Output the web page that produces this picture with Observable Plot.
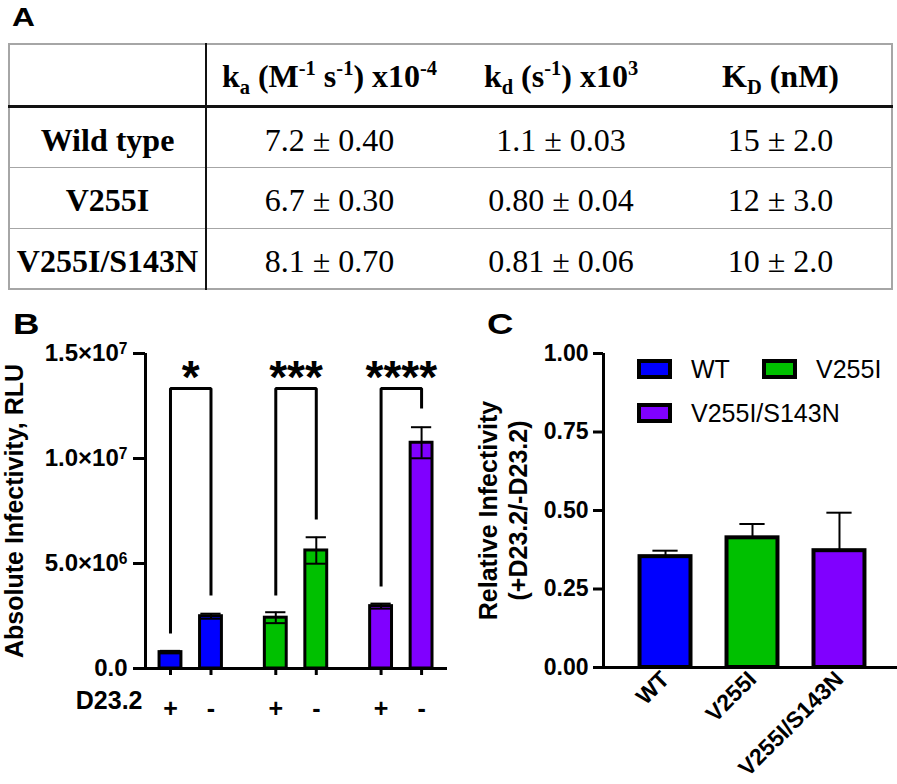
<!DOCTYPE html>
<html><head><meta charset="utf-8">
<script src="https://cdn.jsdelivr.net/npm/d3@7"></script>
<script src="https://cdn.jsdelivr.net/npm/@observablehq/plot@0.6"></script>
<style>
body{margin:0;background:#fff;}
#root{position:relative;width:897px;height:784px;overflow:hidden;font-family:"Liberation Sans",Arial,sans-serif;color:#000;}
.letter{position:absolute;font-weight:bold;font-size:30px;line-height:1;transform:scaleX(1.22);transform-origin:left top;}
#tbl{position:absolute;left:8px;top:43px;border-collapse:collapse;table-layout:fixed;font-family:"Liberation Serif","Times New Roman",serif;font-size:32px;color:#000;border:2px solid #a6a6a6;}
#tbl td{padding:6px 0 0 0;text-align:center;vertical-align:middle;white-space:nowrap;border-top:1.5px solid #a6a6a6;}
#tbl tr.hdr td{border-bottom:3.5px solid #111;font-weight:bold;font-size:32px;padding-top:4px;}
#tbl td.lab{font-weight:bold;border-right:2px solid #111;}
#tbl sub,#tbl sup{font-size:0.64em;line-height:0;}
.sw{position:absolute;box-sizing:border-box;width:35px;height:20px;border:4px solid #000;}
.lt{position:absolute;font-size:25px;line-height:26px;white-space:nowrap;}
.plot{position:absolute;}
</style></head>
<body><div id="root"></div>
<script>
// ---------- DATA ----------
const tableHeaders = ["", "k<sub>a</sub> (M<sup>-1</sup> s<sup>-1</sup>) x10<sup>-4</sup>", "k<sub>d</sub> (s<sup>-1</sup>) x10<sup>3</sup>", "K<sub>D</sub> (nM)"];
const tableRowLabels = ["Wild type", "V255I", "V255I/S143N"];
const kaValues = ["7.2 ± 0.40", "6.7 ± 0.30", "8.1 ± 0.70"];
const kdValues = ["1.1 ± 0.03", "0.80 ± 0.04", "0.81 ± 0.06"];
const KDValues = ["15 ± 2.0", "12 ± 3.0", "10 ± 2.0"];

const groups = ["WT", "V255I", "V255I/S143N"];
const groupColors = ["#0000ff", "#00c000", "#8000ff"];
const treatments = ["+", "-"];
const bMeans = [0.78e6, 2.49e6, 2.42e6, 5.62e6, 2.97e6, 10.75e6];
const bErrors = [0.06e6, 0.12e6, 0.26e6, 0.63e6, 0.12e6, 0.74e6];
const bTicks = [0, 5e6, 1e7, 1.5e7];
const bTickLabels = ["0.0", "5.0×10^6", "1.0×10^7", "1.5×10^7"];
const sigStars = ["*", "***", "****"];
const bracketTop = 13.33e6;
const bracketLeftEnd = [1.67e6, 3.48e6, 3.9e6];
const bracketRightEnd = [3.48e6, 7.1e6, 12.38e6];
const starLevel = 14.33e6;
const bYTitle = "Absolute Infectivity, RLU";
const bXTitle = "D23.2";

const cMeans = [0.353, 0.413, 0.372];
const cErrors = [0.019, 0.044, 0.121];
const cTicks = [0, 0.25, 0.5, 0.75, 1];
const cYTitle = "Relative Infectivity\n(+D23.2/-D23.2)";

// ---------- LAYOUT ----------
const root = document.getElementById("root");
function addDiv(cls, css, html) { const d = document.createElement("div"); d.className = cls; Object.assign(d.style, css); d.innerHTML = html; root.appendChild(d); return d; }

// table A
const tbl = document.createElement("table"); tbl.id = "tbl";
const colW = [197, 246, 218, 222];
const cg = document.createElement("colgroup");
colW.forEach(w => { const c = document.createElement("col"); c.style.width = w + "px"; cg.appendChild(c); });
tbl.appendChild(cg);
const hr = document.createElement("tr"); hr.className = "hdr"; hr.style.height = "62px";
tableHeaders.forEach((h, i) => { const td = document.createElement("td"); td.innerHTML = h; if (i === 0) td.className = "lab"; hr.appendChild(td); });
tbl.appendChild(hr);
tableRowLabels.forEach((lab, r) => {
  const tr = document.createElement("tr"); tr.style.height = "61px";
  [lab, kaValues[r], kdValues[r], KDValues[r]].forEach((v, i) => { const td = document.createElement("td"); td.textContent = v; if (i === 0) td.className = "lab"; tr.appendChild(td); });
  tbl.appendChild(tr);
});
root.appendChild(tbl);

const font = "Liberation Sans, Arial, sans-serif";

// ---------- PANEL B ----------
const bRows = [];
groups.forEach((g, gi) => treatments.forEach((t, ti) => {
  const k = gi * 2 + ti;
  bRows.push({g, t, c: groupColors[gi], x: 1 + gi * 2.6 + ti, v: bMeans[k], e: bErrors[k]});
}));
const brackets = sigStars.map((s, gi) => ({s, xa: 1 + gi * 2.6, xb: 2 + gi * 2.6, l: bracketLeftEnd[gi], r: bracketRightEnd[gi]}));
const bracketPts = brackets.flatMap((b, i) => [
  {i, x: b.xa, y: b.l}, {i, x: b.xa, y: bracketTop}, {i, x: b.xb, y: bracketTop}, {i, x: b.xb, y: b.r}]);
const bXDom = [0.383, 7.84];
const bPx = 302 / (bXDom[1] - bXDom[0]);
const bHalf = 0.27, bCap = 0.25;
const bLabelMap = new Map(bTicks.map((t, i) => [t, bTickLabels[i]]));

const plotB = Plot.plot({
  width: 455, height: 484, marginLeft: 145, marginRight: 8, marginTop: 53, marginBottom: 116,
  style: {fontFamily: font, fontSize: "24px", color: "#000", background: "transparent", overflow: "visible"},
  x: {domain: bXDom, axis: null},
  y: {domain: [0, 1.5e7], axis: null},
  color: {type: "identity"},
  marks: [
    Plot.rectY(bRows, {x1: d => d.x - bHalf, x2: d => d.x + bHalf, y1: 0, y2: "v", fill: "c", stroke: "#000", strokeWidth: 3}),
    Plot.ruleX(bRows, {x: "x", y1: d => d.v - d.e, y2: d => d.v + d.e, strokeWidth: 2, stroke: "#000"}),
    Plot.ruleY(bRows, {y: d => d.v + d.e, x1: d => d.x - bCap, x2: d => d.x + bCap, strokeWidth: 2, stroke: "#000"}),
    Plot.ruleY(bRows, {y: d => d.v - d.e, x1: d => d.x - bCap, x2: d => d.x + bCap, strokeWidth: 2, stroke: "#000"}),
    Plot.line(bracketPts, {x: "x", y: "y", z: "i", stroke: "#000", strokeWidth: 3, strokeLinejoin: "miter", strokeLinecap: "butt", curve: "linear"}),
    Plot.text(brackets, {x: d => (d.xa + d.xb) / 2, y: starLevel, text: "s", fontSize: 46, fontWeight: "bold", dy: 11}),
    Plot.axisY({ticks: bTicks, tickFormat: d => bLabelMap.get(d), tickSize: 12, tickPadding: 6, strokeWidth: 3, fontWeight: "bold", fontSize: 24, label: null}),
    Plot.axisX({ticks: bRows.map(d => d.x), tickFormat: x => bRows.find(d => d.x === x).t, tickSize: 7, tickPadding: 24, strokeWidth: 3, fontWeight: "bold", fontSize: 25, label: null}),
    Plot.ruleX([bXDom[0]], {y1: 0, y2: 1.5e7, strokeWidth: 3, stroke: "#000"}),
    Plot.ruleY([0], {x1: bXDom[0] - 12 / bPx, x2: bXDom[1], strokeWidth: 3, stroke: "#000"}),
    Plot.text([bXTitle], {frameAnchor: "bottom-left", textAnchor: "end", dx: -3, dy: 40, fontSize: 25, fontWeight: "bold"}),
    Plot.text([bYTitle], {frameAnchor: "left", textAnchor: "middle", rotate: -90, dx: -131, fontSize: 25, fontWeight: "bold"})
  ]
});
// superscript exponents on the y tick labels
d3.select(plotB).selectAll("g[aria-label='y-axis tick label'] text").each(function() {
  const s = this.textContent;
  if (s.includes("^")) {
    const [base, exp] = s.split("^");
    const sel = d3.select(this); sel.text(null);
    sel.append("tspan").text(base);
    sel.append("tspan").attr("dy", "-0.45em").attr("font-size", "0.65em").text(exp);
  }
});
plotB.classList.add("plot");
Object.assign(plotB.style, {left: "0px", top: "300px"});
root.appendChild(plotB);

// ---------- PANEL C ----------
const cRows = groups.map((g, i) => ({g, i, c: groupColors[i], v: cMeans[i], e: cErrors[i]}));
const cXDom = [-0.713, 2.667];
const cPx = 294 / (cXDom[1] - cXDom[0]);
const plotC = Plot.plot({
  width: 442, height: 484, marginLeft: 148, marginRight: 0, marginTop: 53, marginBottom: 117,
  style: {fontFamily: font, fontSize: "24px", color: "#000", background: "transparent", overflow: "visible"},
  x: {domain: cXDom, axis: null},
  y: {domain: [0, 1], axis: null},
  color: {type: "identity"},
  marks: [
    Plot.rectY(cRows, {x1: d => d.i - 0.293, x2: d => d.i + 0.293, y1: 0, y2: "v", fill: "c", stroke: "#000", strokeWidth: 4}),
    Plot.ruleX(cRows, {x: "i", y1: "v", y2: d => d.v + d.e, strokeWidth: 2, stroke: "#000"}),
    Plot.ruleY(cRows, {y: d => d.v + d.e, x1: d => d.i - 0.145, x2: d => d.i + 0.145, strokeWidth: 2, stroke: "#000"}),
    Plot.axisY({ticks: cTicks, tickFormat: d3.format(".2f"), tickSize: 10, tickPadding: 5, strokeWidth: 3, fontWeight: "bold", fontSize: 23, label: null}),
    Plot.axisX({ticks: cRows.map(d => d.i), tickFormat: i => groups[i], tickSize: 0, tickPadding: 8, tickRotate: -45, fontWeight: "bold", fontSize: 23, label: null}),
    Plot.ruleX([cXDom[0]], {y1: 0, y2: 1, strokeWidth: 3, stroke: "#000"}),
    Plot.ruleY([0], {x1: cXDom[0] - 10 / cPx, x2: cXDom[1], strokeWidth: 3, stroke: "#000"}),
    Plot.text([cYTitle], {frameAnchor: "left", textAnchor: "middle", rotate: -90, dx: -101, lineHeight: 1.2, fontSize: 25, fontWeight: "bold"})
  ]
});
plotC.classList.add("plot");
Object.assign(plotC.style, {left: "455px", top: "300px"});
root.appendChild(plotC);

// legend for C
const legendSlots = [{sx: 637, sy: 359, tx: 691}, {sx: 762, sy: 359, tx: 816}, {sx: 637, sy: 403, tx: 691}];
groups.forEach((g, i) => {
  const p = legendSlots[i];
  addDiv("sw", {left: p.sx + "px", top: p.sy + "px", background: groupColors[i]}, "");
  addDiv("lt", {left: p.tx + "px", top: (p.sy - 3) + "px"}, g);
});

// panel letters
addDiv("letter", {left: "12px", top: "4px", fontSize: "26px"}, "A");
addDiv("letter", {left: "13px", top: "309px"}, "B");
addDiv("letter", {left: "487px", top: "309px"}, "C");
</script></body></html>
